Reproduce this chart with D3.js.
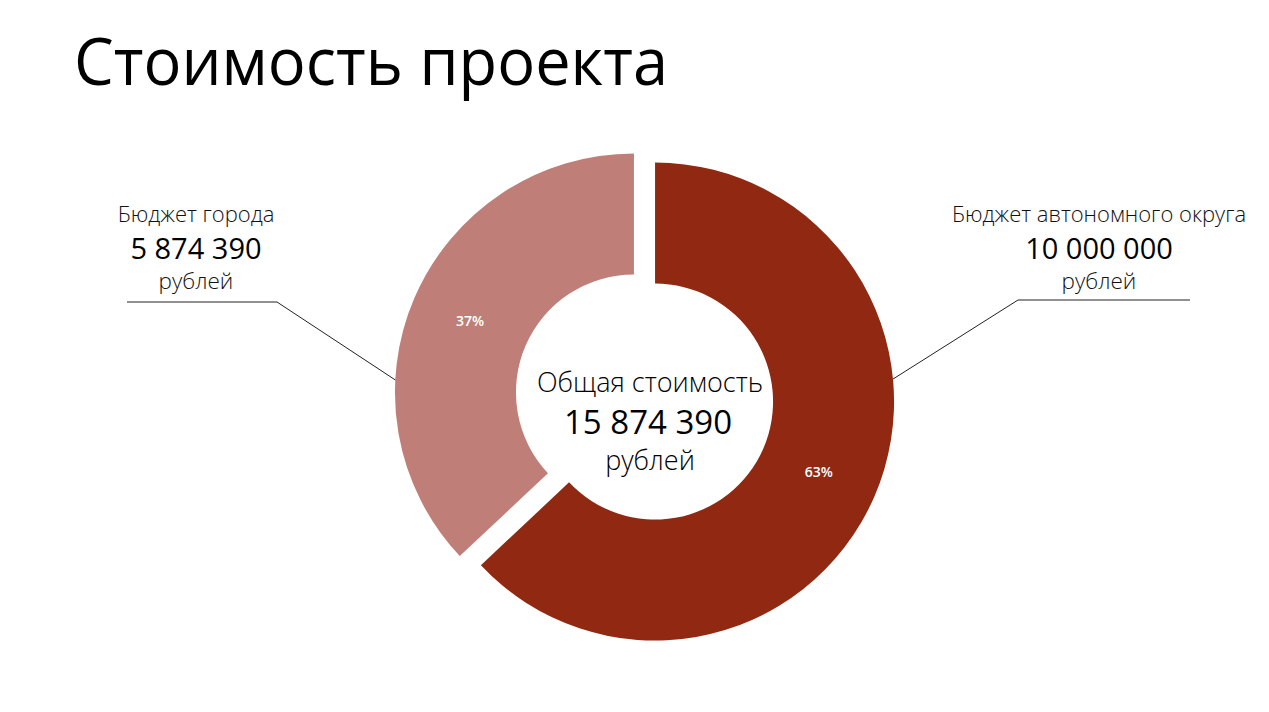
<!DOCTYPE html>
<html>
<head>
<meta charset="utf-8">
<script src="https://cdn.jsdelivr.net/npm/d3@7"></script>
<style>
  html, body { margin: 0; padding: 0; background: #fff; }
  svg { display: block; font-family: "Open Sans", "Noto Sans", sans-serif; }
</style>
</head>
<body>
<svg id="chart" width="1269" height="712"></svg>
<script>
// ---- data ----
const titleText = "Стоимость проекта";
const categories = ["Бюджет автономного округа", "Бюджет города"];
const values = [10000000, 5874390];
const amountLabels = ["10 000 000", "5 874 390"];
const unitLabel = "рублей";
const centerLines = ["Общая стоимость", "15 874 390", "рублей"];
const colors = ["#912811", "#BF7F78"];

// ---- layout ----
const svg = d3.select("#chart");
const cx = 644.5, cy = 397;
const outerR = 239, innerR = 118, explode = 11.5;

svg.append("text")
  .attr("x", 74).attr("y", 85)
  .attr("font-size", 66).attr("font-weight", 400)
  .attr("textLength", 594).attr("lengthAdjust", "spacingAndGlyphs")
  .attr("fill", "#000")
  .text(titleText);

const pie = d3.pie().sort(null).value(d => d.value).startAngle(0).endAngle(2 * Math.PI);
const arcs = pie(categories.map((c, i) => ({ name: c, value: values[i], color: colors[i], amount: amountLabels[i] })));
const arc = d3.arc().innerRadius(innerR).outerRadius(outerR);
const total = d3.sum(values);

const g = svg.append("g").attr("transform", `translate(${cx},${cy})`);

function offset(d) {
  const a = (d.startAngle + d.endAngle) / 2;
  return [Math.sin(a) * explode, -Math.cos(a) * explode];
}

const slice = g.selectAll("g.slice").data(arcs).enter().append("g")
  .attr("class", "slice")
  .attr("transform", d => { const o = offset(d); return `translate(${o[0]},${o[1]})`; });

slice.append("path").attr("d", arc).attr("fill", d => d.data.color);

slice.append("text")
  .attr("transform", d => `translate(${arc.centroid(d)})`)
  .attr("text-anchor", "middle").attr("dy", "0.35em")
  .attr("font-size", 14).attr("font-weight", 600).attr("fill", "#fff")
  .text(d => Math.round(d.data.value / total * 100) + "%");

// leader lines + labels
const leaderAngles = [Math.PI * 84.6 / 180, Math.PI * 273 / 180];
const labelCenters = [1099, 196];
const lineEnds = [[1018, 1190], [277, 127]];
const lineY = [300, 302];

arcs.forEach((d, i) => {
  const o = offset(d);
  const a = leaderAngles[i];
  const px = cx + o[0] + Math.sin(a) * outerR;
  const py = cy + o[1] - Math.cos(a) * outerR;
  svg.append("polyline")
    .attr("points", [[px, py], [lineEnds[i][0], lineY[i]], [lineEnds[i][1], lineY[i]]].map(p => p.join(",")).join(" "))
    .attr("fill", "none").attr("stroke", "#222").attr("stroke-width", 1);

  const lg = svg.append("g").attr("text-anchor", "middle").attr("fill", "#111");
  lg.append("text").attr("x", labelCenters[i]).attr("y", 222)
    .attr("font-size", 22).attr("font-weight", 300).text(d.data.name);
  lg.append("text").attr("x", labelCenters[i]).attr("y", 259)
    .attr("font-size", 29).attr("font-weight", 400).attr("fill", "#000").text(d.data.amount);
  lg.append("text").attr("x", labelCenters[i]).attr("y", 289)
    .attr("font-size", 22.5).attr("font-weight", 300).text(unitLabel);
});

// center text
const ct = svg.append("g").attr("text-anchor", "middle").attr("fill", "#000");
ct.append("text").attr("x", 650).attr("y", 392).attr("font-size", 27).attr("font-weight", 300).text(centerLines[0]);
ct.append("text").attr("x", 648).attr("y", 434).attr("font-size", 33).attr("font-weight", 400).text(centerLines[1]);
ct.append("text").attr("x", 650).attr("y", 470).attr("font-size", 27).attr("font-weight", 300).text(centerLines[2]);
</script>
</body>
</html>
